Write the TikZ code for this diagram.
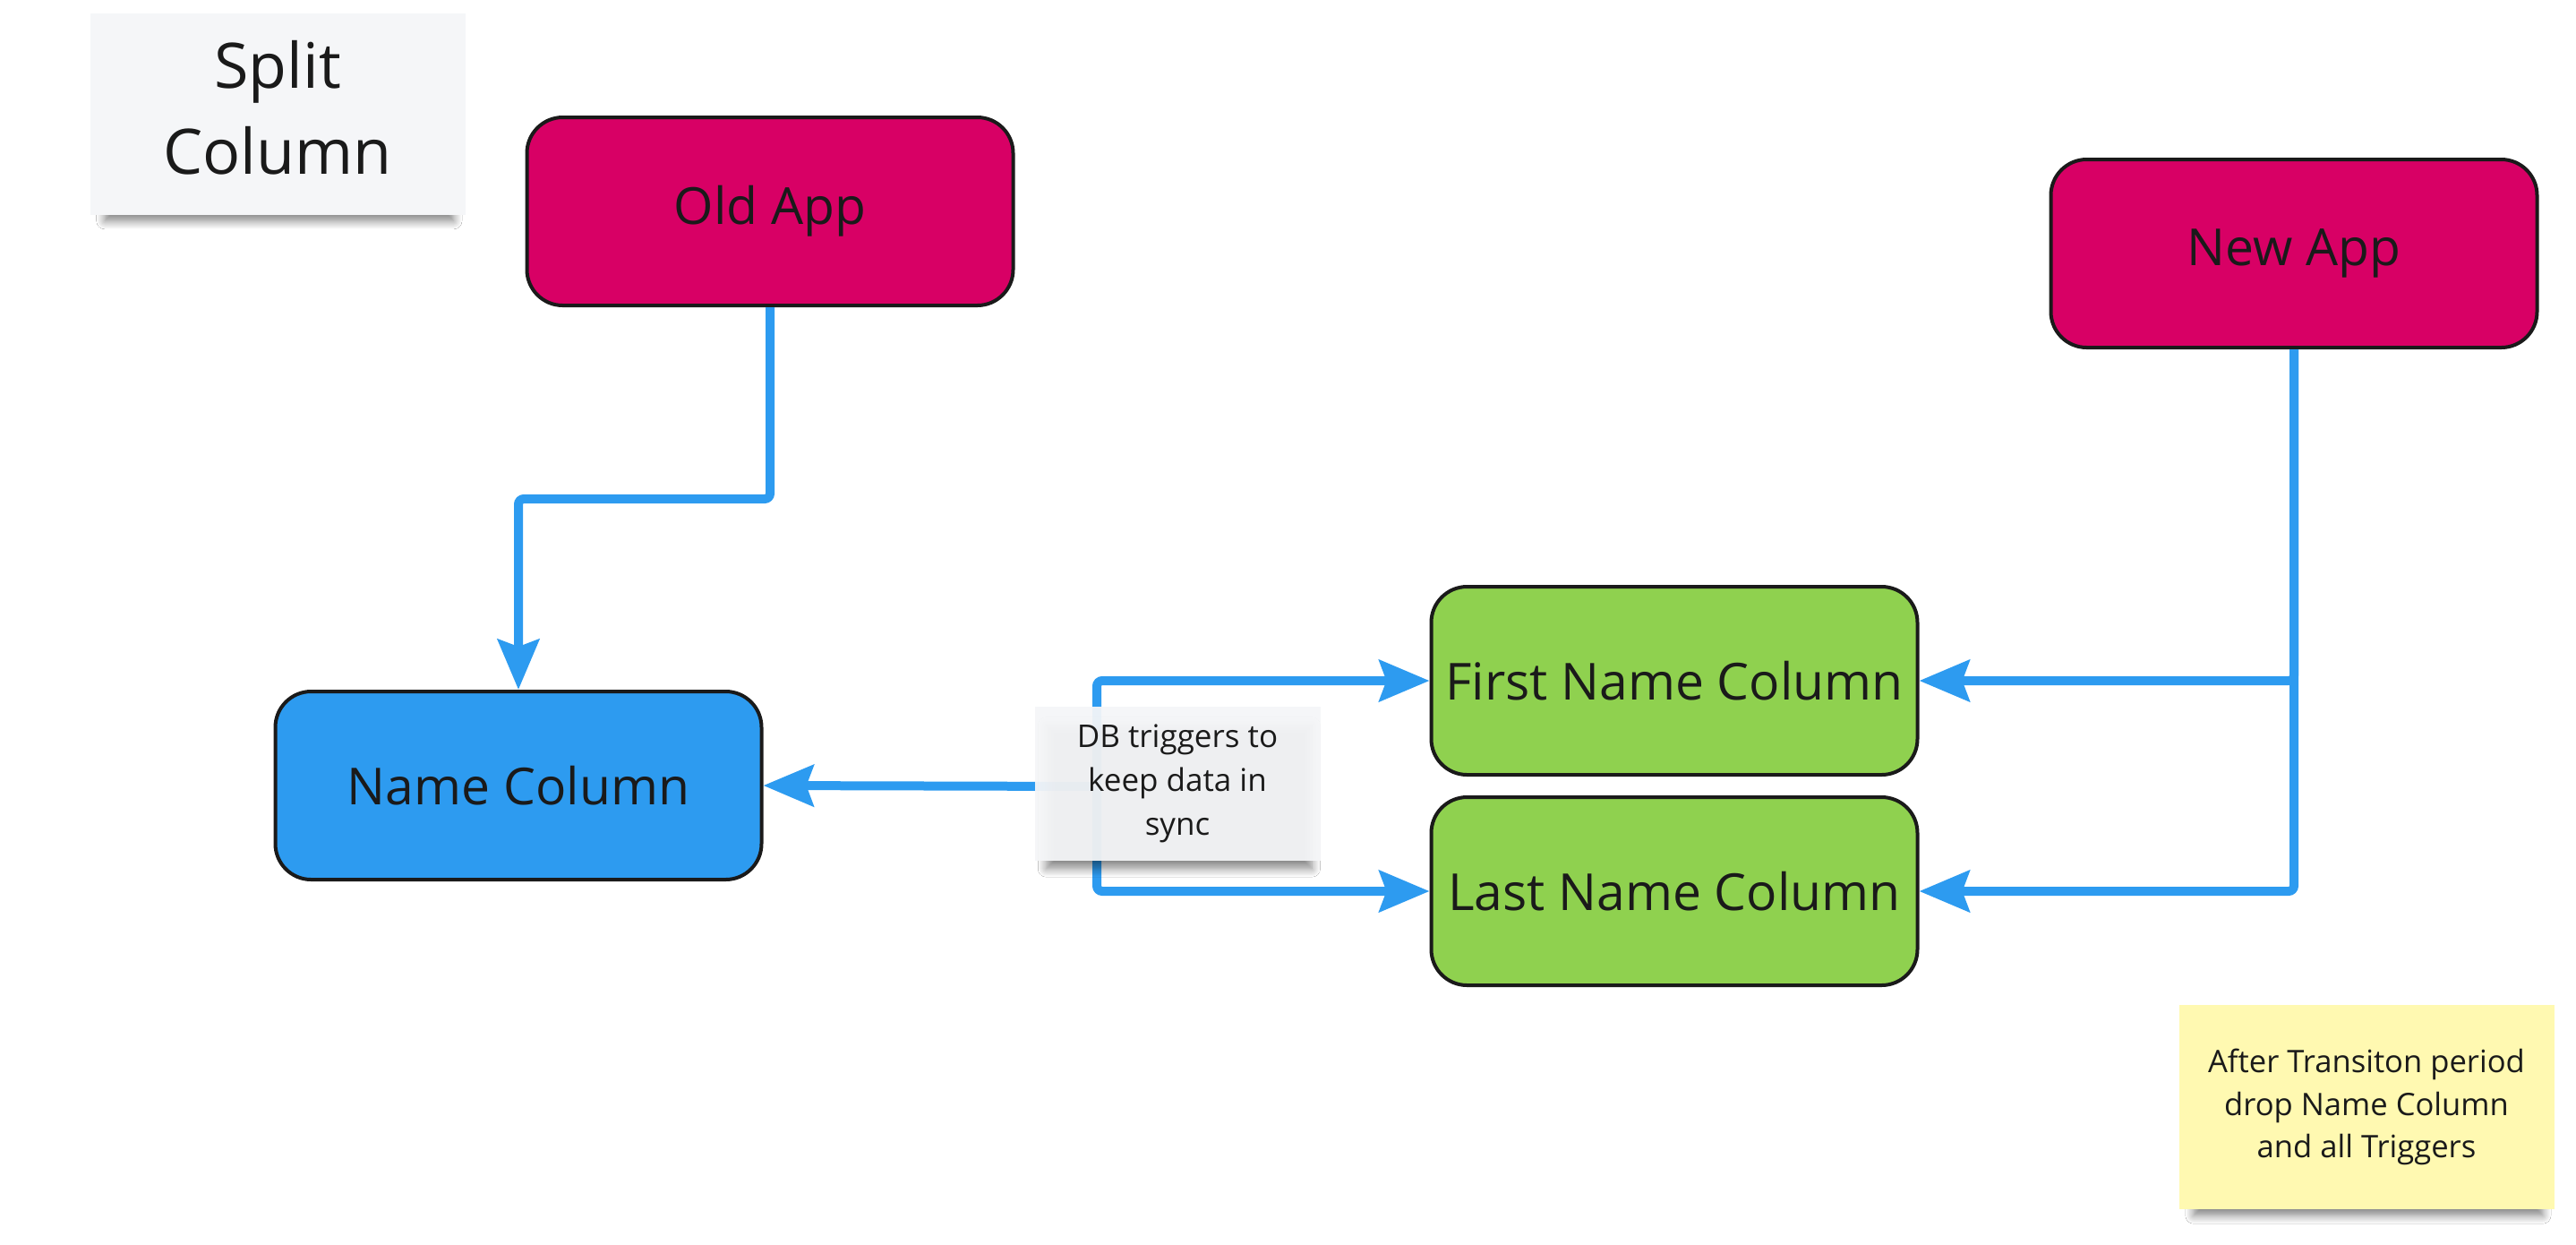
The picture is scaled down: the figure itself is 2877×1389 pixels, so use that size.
\documentclass[tikz,border=0pt]{standalone}
\usepackage{fontspec}
\setmainfont{Open Sans}
\usetikzlibrary{arrows.meta,shadows.blur}
\definecolor{pinkapp}{HTML}{D80065}
\definecolor{bluecol}{HTML}{2D9BF0}
\definecolor{greencol}{HTML}{8FD14F}
\definecolor{notegray}{HTML}{F5F6F8}
\definecolor{noteyellow}{HTML}{FFF9B1}
\definecolor{ink}{HTML}{1A1A1A}
\definecolor{flowblue}{HTML}{2D9BF0}
\tikzset{
  boxnode/.style={draw=ink, line width=2pt, rounded corners=20pt, minimum width=271.5pt, minimum height=105pt, inner sep=0pt, text=ink, font=\fontsize{28.5}{34}\selectfont},
  notenode/.style={inner sep=0pt, align=center, text=ink,
    blur shadow={shadow xshift=1pt, shadow yshift=-8pt, shadow scale=0.93, shadow blur radius=5pt, shadow blur steps=10, shadow opacity=50}},
  flow/.style={draw=flowblue, line width=5pt, rounded corners=3pt, -{Stealth[length=28pt, width=23pt, inset=4pt]}}
}
\begin{document}
\begin{tikzpicture}[x=0.5pt, y=-0.5pt]
\useasboundingbox (0,0) rectangle (2877,1389);
\fill[white] (0,0) rectangle (2877,1389);

\node[boxnode, fill=pinkapp] (old) at (860,236) {Old App};
\node[boxnode, fill=pinkapp] (new) at (2562,283) {New App};
\node[boxnode, fill=bluecol] (name) at (579,877) {Name Column};
\node[boxnode, fill=greencol] (first) at (1870,760) {First Name Column};
\node[boxnode, fill=greencol] (last) at (1870,995) {Last Name Column};

\coordinate (bend1) at (860,557);
\coordinate (br) at (1225,878);

\draw[flow] (old.south) -- (old.south |- bend1) -| (name.north);
\draw[flow] (br) -- (name.east);
\draw[flow] (br) |- (first.west);
\draw[flow] (br) |- (last.west);
\draw[flow] (new.south) |- (first.east);
\draw[flow] (new.south) |- (last.east);

\node[notenode, fill=notegray, minimum width=209.5pt, minimum height=112.5pt, font=\fontsize{35}{48}\selectfont] (title) at (310,127) {\raisebox{9pt}{\begin{tabular}{@{}c@{}}Split\\[-0.2pt]Column\end{tabular}}};
\node[notenode, fill=notegray, fill opacity=0.94, text opacity=1, minimum width=159.5pt, minimum height=86pt, font=\fontsize{17.5}{24.5}\selectfont] (sync) at (1315,875) {DB triggers to\\keep data in\\sync};
\node[notenode, fill=noteyellow, minimum width=209.5pt, minimum height=114pt, font=\fontsize{17.3}{23.8}\selectfont] (after) at (2643,1236) {After Transiton period\\drop Name Column\\and all Triggers};
\end{tikzpicture}
\end{document}
